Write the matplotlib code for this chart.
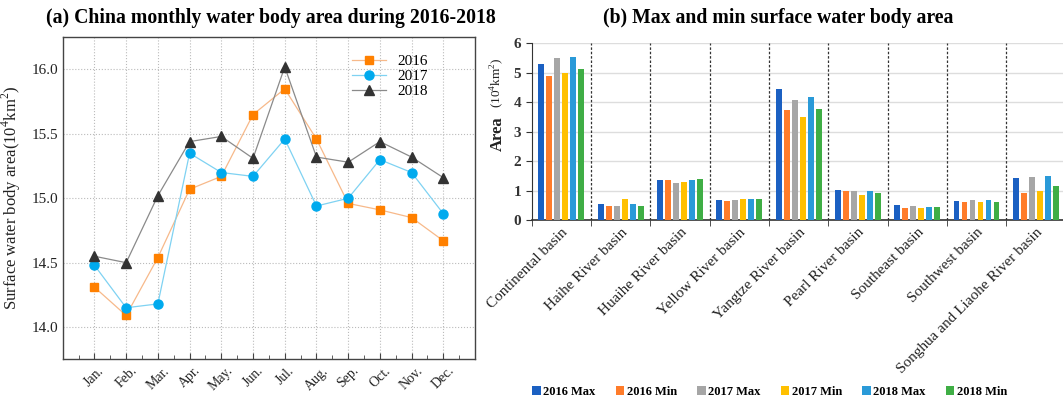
import matplotlib
matplotlib.use("Agg")
import matplotlib.pyplot as plt
import numpy as np
from matplotlib.patches import Patch
from matplotlib.ticker import MultipleLocator, FormatStrFormatter

plt.rcParams['font.family'] = ['Liberation Serif', 'DejaVu Serif']
plt.rcParams['mathtext.fontset'] = 'custom'
plt.rcParams['mathtext.rm'] = 'Liberation Serif'

# ---- monthly national water area (10^4 km^2) ----
months = ["Jan.", "Feb.", "Mar.", "Apr.", "May.", "Jun.", "Jul.", "Aug.",
          "Sep.", "Oct.", "Nov.", "Dec."]
area_2016 = [14.31, 14.09, 14.54, 15.07, 15.17, 15.65, 15.85, 15.46,
             14.96, 14.91, 14.85, 14.67]
area_2017 = [14.48, 14.15, 14.18, 15.35, 15.20, 15.17, 15.46, 14.94,
             15.00, 15.30, 15.20, 14.88]
area_2018 = [14.55, 14.50, 15.02, 15.44, 15.48, 15.31, 16.02, 15.32,
             15.28, 15.44, 15.32, 15.16]

# ---- basin max / min water area (10^4 km^2) ----
basins = ["Continental basin", "Haihe River basin", "Huaihe River basin",
          "Yellow River basin", "Yangtze River basin", "Pearl River basin",
          "Southeast basin", "Southwest basin", "Songhua and Liaohe River basin"]
max_2016 = [5.28, 0.53, 1.35, 0.67, 4.44, 1.03, 0.50, 0.63, 1.41]
min_2016 = [4.88, 0.46, 1.35, 0.63, 3.73, 0.97, 0.42, 0.60, 0.91]
max_2017 = [5.50, 0.46, 1.25, 0.67, 4.07, 0.97, 0.46, 0.67, 1.46]
min_2017 = [5.00, 0.70, 1.30, 0.70, 3.49, 0.84, 0.42, 0.60, 0.97]
max_2018 = [5.53, 0.56, 1.35, 0.70, 4.18, 1.00, 0.45, 0.67, 1.48]
min_2018 = [5.12, 0.46, 1.38, 0.70, 3.77, 0.91, 0.45, 0.60, 1.14]
bar_labels = ["2016 Max", "2016 Min", "2017 Max", "2017 Min", "2018 Max", "2018 Min"]

fig = plt.figure(figsize=(10.63, 4.0), dpi=100)

# ================= (a) monthly line chart =================
ax1 = fig.add_axes([0.059, 0.1018, 0.3879, 0.805])
x = np.arange(1, 13)
ax1.plot(x, area_2016, color='#f7b98a', lw=0.9, marker='s', ms=5.5,
         mfc='#ff8000', mec='#ff8000', label='2016', zorder=3)
ax1.plot(x, area_2017, color='#7fd2f2', lw=0.9, marker='o', ms=6.5,
         mfc='#00aaee', mec='#00aaee', label='2017', zorder=3)
ax1.plot(x, area_2018, color='#8a8a8a', lw=0.9, marker='^', ms=6.5,
         mfc='#333333', mec='#333333', label='2018', zorder=3)
ax1.set_xlim(0, 13)
ax1.set_ylim(13.75, 16.25)
ax1.set_xticks(x)
ax1.set_xticklabels(months, rotation=45, fontsize=10, color='#222222')
ax1.xaxis.set_minor_locator(MultipleLocator(0.5))
ax1.yaxis.set_major_locator(MultipleLocator(0.5))
ax1.yaxis.set_major_formatter(FormatStrFormatter('%.1f'))
ax1.tick_params(axis='both', which='both', direction='in', colors='#444444',
                labelcolor='#222222')
ax1.tick_params(axis='y', labelsize=11, length=0)
ax1.tick_params(axis='x', which='major', length=4)
ax1.tick_params(axis='x', which='minor', length=3)
for lab in ax1.get_xticklabels():
    lab.set_ha('center')
ax1.grid(True, which='major', linestyle=':', color='#bbbbbb', lw=0.8)
for s in ax1.spines.values():
    s.set_color('#444444')
    s.set_linewidth(1.0)
ax1.set_ylabel('Surface water body area(10$^4$km$^2$)', fontsize=12,
               color='#222222', labelpad=6)
ax1.legend(loc='upper right', frameon=False, fontsize=11,
           handlelength=2.2, labelspacing=0.1,
           bbox_to_anchor=(0.92, 0.99))
fig.text(0.255, 0.955, '(a) China monthly water body area during 2016-2018',
         ha='center', va='center', fontsize=14.2, fontweight='bold')

# ================= (b) basin bar chart =================
ax2 = fig.add_axes([0.5002, 0.45, 0.5021, 0.4418])
series = [max_2016, min_2016, max_2017, min_2017, max_2018, min_2018]
colors = ['#1b60c2', '#ff7c2a', '#a6a6a6', '#ffc000', '#2a9ad8', '#3fae45']
pos = np.arange(len(basins))
pitch = 0.135
width = 0.1
for i, (vals, c) in enumerate(zip(series, colors)):
    ax2.bar(pos + (i - 2.5) * pitch, vals, width=width, color=c, zorder=3,
            label=bar_labels[i])
ax2.set_xlim(-0.5, len(basins) - 0.5)
ax2.set_ylim(0, 6)
ax2.yaxis.set_major_locator(MultipleLocator(1))
ax2.grid(True, axis='y', color='#dddddd', lw=1.0, zorder=0)
for b in np.arange(0.5, len(basins) - 0.5, 1.0):
    ax2.axvline(b, color='#333333', lw=0.9, ls=(0, (2, 1.5)), zorder=2)
ax2.set_xticks(pos)
ax2.set_xticklabels(basins, rotation=45, ha='right', rotation_mode='anchor',
                    fontsize=11, color='#222222')
ax2.set_xticks(np.arange(-0.5, len(basins), 1.0), minor=True)
ax2.tick_params(axis='x', which='major', length=0, pad=4)
ax2.tick_params(axis='x', which='minor', length=4, direction='out',
                color='#333333')
ax2.tick_params(axis='y', length=4, direction='out', color='#333333',
                labelsize=11)
for lab in ax2.get_yticklabels():
    lab.set_fontweight('bold')
    lab.set_color('#333333')
ax2.spines['top'].set_visible(False)
ax2.spines['right'].set_visible(False)
ax2.spines['left'].set_color('#333333')
ax2.spines['bottom'].set_color('#333333')
ax2.spines['bottom'].set_linewidth(1.2)
fig.text(0.468, 0.665, 'Area', rotation=90, ha='center', va='center',
         fontsize=12, fontweight='bold', color='#222222')
fig.text(0.468, 0.73, '(10$^4$km$^2$)', rotation=90, ha='center',
         va='bottom', fontsize=9.5, color='#222222')
fig.text(0.732, 0.955, '(b) Max and min surface water body area',
         ha='center', va='center', fontsize=14.2, fontweight='bold')

handles = [Patch(facecolor=c, edgecolor='none') for c in colors]
fig.legend(handles, bar_labels, loc='center', bbox_to_anchor=(0.724, 0.02),
           ncol=6, frameon=False, handlelength=0.7, handleheight=0.7,
           handletextpad=0.2, columnspacing=1.6,
           prop={'weight': 'bold', 'size': 9})

fig.savefig('out.png', dpi=100)
